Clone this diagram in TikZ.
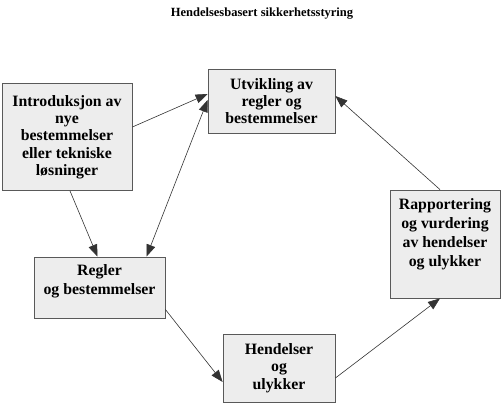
\documentclass[tikz,border=0pt]{standalone}
\usepackage{fontspec}
\setmainfont{Liberation Serif}
\usetikzlibrary{arrows.meta}
\begin{document}
\begin{tikzpicture}[x=1pt,y=-1pt,
  box/.style={draw=black!65, line width=0.8pt, fill=black!7, inner sep=0pt, align=center,
    font=\fontsize{15.8}{17.3}\selectfont\bfseries},
  txt/.style={inner sep=0pt, align=center, font=\fontsize{15.8}{18.8}\selectfont\bfseries},
  arr/.style={draw=black!80, line width=0.6pt, -{Triangle[length=12pt,width=9pt]}},
  darr/.style={draw=black!80, line width=0.6pt, {Triangle[length=12pt,width=9pt]}-{Triangle[length=12pt,width=9pt]}}]
\useasboundingbox (0,0) rectangle (503,403);
\node[font=\fontsize{12.5}{14}\selectfont\bfseries] (title) at (262,14) {Hendelsesbasert sikkerhetsstyring};
\node[box, minimum width=130pt, minimum height=107pt] (b1) at (67,137)
  {Introduksjon av\\nye\\bestemmelser\\eller tekniske\\løsninger};
\node[box, minimum width=127pt, minimum height=64pt] (b2) at (271.5,101)
  {Utvikling av\\regler og\\bestemmelser};
\node[box, minimum width=131pt, minimum height=61pt] (b3) at (99.5,287.5) {};
\node[txt, anchor=north] (b3t) at ([yshift=-8pt]b3.north)
  {Regler\\og bestemmelser};
\node[box, minimum width=112pt, minimum height=68pt] (b4) at (279,368)
  {Hendelser\\og\\ulykker};
\node[box, minimum width=110pt, minimum height=108pt] (b5) at (445,244) {};
\node[txt, anchor=north] (b5t) at ([yshift=-9pt]b5.north)
  {Rapportering\\og vurdering\\av hendelser\\og ulykker};
\draw[arr] ([yshift=10pt]b1.east) -- ([yshift=7pt]b2.west);
\draw[darr] ([yshift=1pt]b2.west) -- ([xshift=47pt]b3.north);
\draw[arr] ([xshift=3pt]b1.south) -- ([xshift=-2pt]b3.north);
\draw[arr] ([yshift=-22pt]b3.east) -- ([yshift=-14pt]b4.west);
\draw[arr] ([yshift=-10pt]b4.east) -- ([xshift=-5pt]b5.south);
\draw[arr] ([xshift=-5pt]b5.north) -- ([yshift=5pt]b2.east);
\end{tikzpicture}
\end{document}
